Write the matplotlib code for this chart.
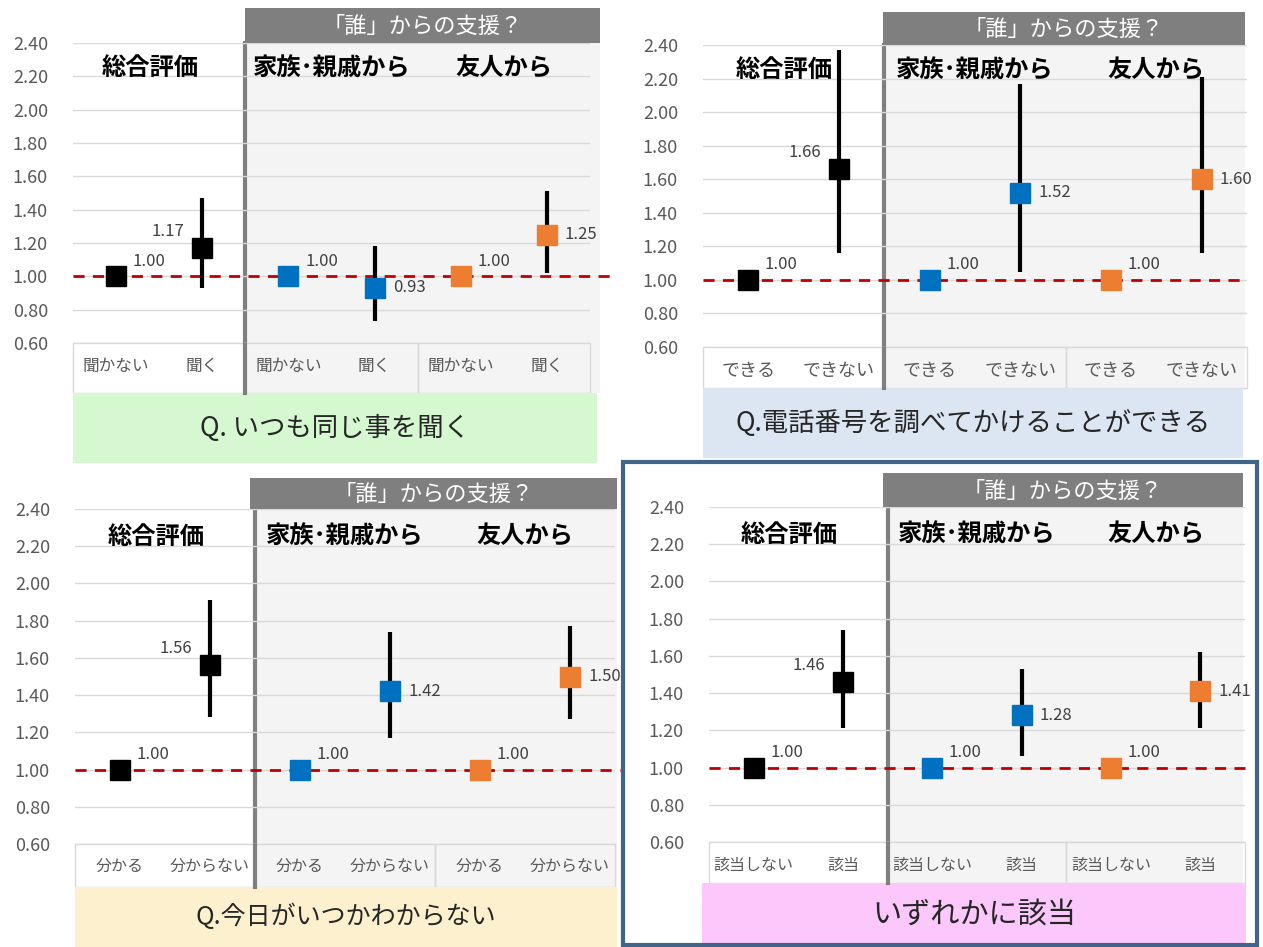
import numpy as np
import matplotlib
matplotlib.use("Agg")
import matplotlib.pyplot as plt
from matplotlib.patches import Rectangle

plt.rcParams['font.family'] = ['Noto Sans CJK JP', 'DejaVu Sans']

# data
groups = ['総合評価', '家族･親戚から', '友人から']
header = '「誰」からの支援？'

cats1 = ['聞かない', '聞く'] * 3
val1 = [1.00, 1.17, 1.00, 0.93, 1.00, 1.25]
low1 = [1.00, 0.93, 1.00, 0.73, 1.00, 1.02]
high1 = [1.00, 1.47, 1.00, 1.18, 1.00, 1.51]
q1 = 'Q. いつも同じ事を聞く'

cats2 = ['できる', 'できない'] * 3
val2 = [1.00, 1.66, 1.00, 1.52, 1.00, 1.60]
low2 = [1.00, 1.16, 1.00, 1.05, 1.00, 1.16]
high2 = [1.00, 2.37, 1.00, 2.17, 1.00, 2.21]
q2 = 'Q.電話番号を調べてかけることができる'

cats3 = ['分かる', '分からない'] * 3
val3 = [1.00, 1.56, 1.00, 1.42, 1.00, 1.50]
low3 = [1.00, 1.28, 1.00, 1.17, 1.00, 1.27]
high3 = [1.00, 1.91, 1.00, 1.74, 1.00, 1.77]
q3 = 'Q.今日がいつかわからない'

cats4 = ['該当しない', '該当'] * 3
val4 = [1.00, 1.46, 1.00, 1.28, 1.00, 1.41]
low4 = [1.00, 1.21, 1.00, 1.06, 1.00, 1.21]
high4 = [1.00, 1.74, 1.00, 1.53, 1.00, 1.62]
q4 = 'いずれかに該当'

W, H = 1263, 947
fig = plt.figure(figsize=(W / 100, H / 100), dpi=100)
bg = fig.add_axes([0, 0, 1, 1])
bg.set_xlim(0, W)
bg.set_ylim(H, 0)
bg.axis('off')

colors = ['black', 'black', '#0070c0', '#0070c0', '#ed7d31', '#ed7d31']


def panel(plot_box, band_bottom, head_box, cap_box, cap_color,
          cats, vals, lows, highs, question, dash_ext, cat_fs, cap_fs):
    x0, y0, x1, y1 = plot_box
    step = (x1 - x0) / 6
    sep = x0 + 2 * step
    # light grey area for "who" part
    bg.add_patch(Rectangle((sep, head_box[3]), head_box[2] - sep, band_bottom - head_box[3],
                           facecolor='#f4f4f4', edgecolor='none', zorder=0))
    # header
    bg.add_patch(Rectangle((head_box[0], head_box[1]), head_box[2] - head_box[0],
                           head_box[3] - head_box[1], facecolor='#7f7f7f', edgecolor='none'))
    bg.text((head_box[0] + head_box[2]) / 2, (head_box[1] + head_box[3]) / 2 + 1, header,
            color='white', fontsize=16, ha='center', va='center')
    # category band borders
    for a, b in [(x0, sep), (sep, x0 + 4 * step), (x0 + 4 * step, x1)]:
        bg.add_patch(Rectangle((a, y1), b - a, band_bottom - y1, facecolor='none',
                               edgecolor='#d9d9d9', lw=1, zorder=1))
    # separator
    bg.plot([sep, sep], [head_box[3], band_bottom], color='#7f7f7f', lw=3, zorder=3)
    # caption
    bg.add_patch(Rectangle((cap_box[0], cap_box[1]), cap_box[2] - cap_box[0],
                           cap_box[3] - cap_box[1], facecolor=cap_color, edgecolor='none'))
    bg.text((cap_box[0] + cap_box[2]) / 2, (cap_box[1] + cap_box[3]) / 2, question,
            fontsize=cap_fs, color='#262626', ha='center', va='center')

    ax = fig.add_axes([x0 / W, 1 - y1 / H, (x1 - x0) / W, (y1 - y0) / H])
    ax.patch.set_alpha(0)
    ax.set_xlim(0, 6)
    ax.set_ylim(0.6, 2.4)
    for s in ax.spines.values():
        s.set_visible(False)
    ax.set_yticks(np.arange(0.6, 2.41, 0.2))
    ax.set_yticklabels([f'{t:.2f}' for t in np.arange(0.6, 2.41, 0.2)],
                       color='#595959', fontsize=13)
    ax.grid(axis='y', color='#d9d9d9', lw=1)
    ax.set_axisbelow(True)
    xs = np.arange(6) + 0.5
    ax.set_xticks(xs)
    ax.set_xticklabels(cats, color='#595959', fontsize=cat_fs)
    ax.tick_params(axis='both', length=0)
    ax.tick_params(axis='y', pad=18)
    ax.tick_params(axis='x', pad=11)

    ax.plot([0, 6 + dash_ext], [1, 1], ls=(0, (4, 3)), color='#c00000', lw=2,
            clip_on=False, zorder=2)

    for i in range(6):
        ax.errorbar(xs[i], vals[i], yerr=[[vals[i] - lows[i]], [highs[i] - vals[i]]],
                    fmt='s', ms=15, color=colors[i], ecolor='black', elinewidth=3,
                    capsize=0, zorder=4)
        lab = f'{vals[i]:.2f}'
        if i % 2 == 0:
            ax.annotate(lab, (xs[i], vals[i]), xytext=(12, 11), textcoords='offset points',
                        ha='left', va='center', fontsize=12, color='#404040')
        elif i == 1:
            ax.annotate(lab, (xs[i], vals[i]), xytext=(-13, 12), textcoords='offset points',
                        ha='right', va='center', fontsize=12, color='#404040')
        else:
            ax.annotate(lab, (xs[i], vals[i]), xytext=(13, 0), textcoords='offset points',
                        ha='left', va='center', fontsize=12, color='#404040')

    for gx, g in zip([0.9, 3.0, 5.0], groups):
        ax.text(gx, 2.25, g, fontsize=17.5, fontweight='bold', ha='center', va='center',
                color='black', zorder=5)
    return ax


panel((73, 43, 590, 343), 393, (245, 8, 600, 43), (73, 393, 597, 463), '#d5f8d0',
      cats1, val1, low1, high1, q1, 0.23, 12, 19)
panel((703, 45, 1247, 347), 388, (883, 12, 1245, 45), (703, 388, 1243, 458), '#dce6f2',
      cats2, val2, low2, high2, q2, 0.0, 13, 19)
panel((75, 509, 615, 844), 887, (250, 478, 617, 509), (75, 887, 617, 947), '#fdf0cf',
      cats3, val3, low3, high3, q3, 0.05, 11.5, 18)
panel((709, 507, 1245, 842), 883, (883, 473, 1243, 507), (702, 883, 1246, 947), '#fcc8fc',
      cats4, val4, low4, high4, q4, 0.0, 11.5, 21)

# frame around the last panel
bg.add_patch(Rectangle((623, 462), 634, 483, facecolor='none', edgecolor='#41648a', lw=3,
                       zorder=6))

fig.savefig('out.png', dpi=100)
